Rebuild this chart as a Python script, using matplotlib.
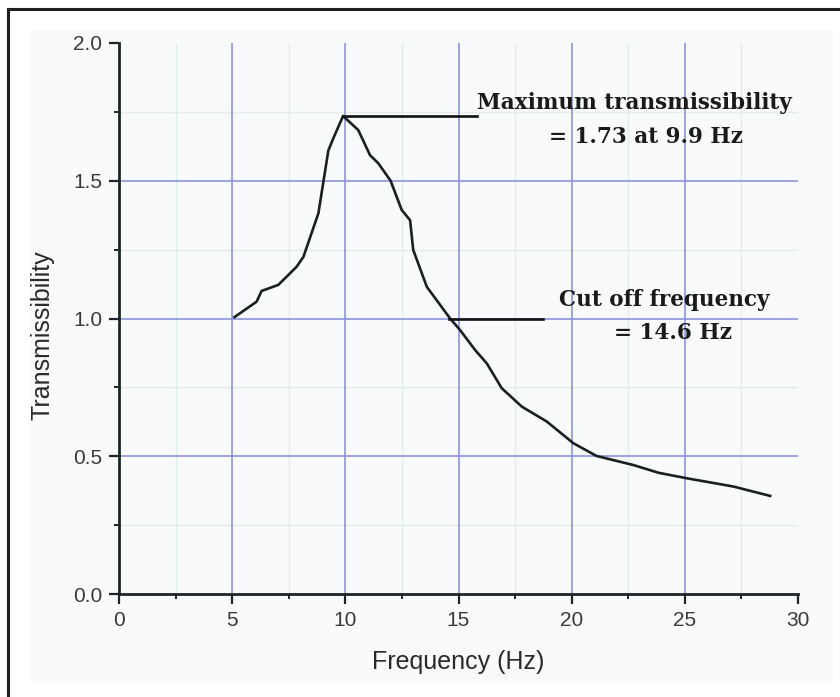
import matplotlib
matplotlib.use("Agg")
import matplotlib.pyplot as plt
from matplotlib.lines import Line2D
from matplotlib.patches import Rectangle
from matplotlib.ticker import MultipleLocator, FormatStrFormatter

# Transmissibility curve
freq_hz = [5.1, 6.08, 6.3, 7.04, 7.85, 8.15, 8.81, 9.25, 9.47, 9.9,
           10.57, 11.09, 11.46, 12.0, 12.49, 12.86, 13.0, 13.6, 14.63,
           15.07, 15.73, 16.25, 16.91, 17.8, 18.9, 20.08, 21.1, 22.73,
           23.84, 25.09, 27.15, 28.77]
transmissibility = [1.005, 1.061, 1.10, 1.122, 1.188, 1.224, 1.382, 1.61, 1.654, 1.735,
                    1.684, 1.593, 1.563, 1.50, 1.394, 1.357, 1.249, 1.115, 1.0,
                    0.958, 0.886, 0.837, 0.747, 0.680, 0.626, 0.547, 0.501, 0.468,
                    0.440, 0.42, 0.39, 0.356]

peak_f, peak_t = 9.9, 1.735
cutoff_f, cutoff_t = 14.6, 1.0
peak_line_end = 15.82
cutoff_line_end = 18.74

peak_label = ["Maximum transmissibility", "= 1.73 at 9.9 Hz"]
cutoff_label = ["Cut off frequency", "= 14.6 Hz"]

# interior grid positions (edges carry no grid line in the original)
x_major_grid = [5, 10, 15, 20, 25]
x_minor_grid = [2.5, 7.5, 12.5, 17.5, 22.5, 27.5]
y_major_grid = [0.5, 1.0, 1.5]
y_minor_grid = [0.25, 0.75, 1.25, 1.75]

fig = plt.figure(figsize=(8.4, 6.97), dpi=100, facecolor="white")

# light paper background and the outer frame
fig.patches.append(Rectangle((30 / 840, 14 / 697), 803 / 840, 653 / 697,
                             transform=fig.transFigure, facecolor="#f9fafc",
                             edgecolor="none", zorder=-5))
fx, fy = 8 / 840, 1 - 9 / 697
fig.lines.append(Line2D([fx, fx], [0, fy], transform=fig.transFigure,
                        color="#1e1e1e", linewidth=2.2, zorder=-4))
fig.lines.append(Line2D([fx, 1], [fy, fy], transform=fig.transFigure,
                        color="#1e1e1e", linewidth=2.2, zorder=-4))

ax = fig.add_axes([119 / 840, 103 / 697, 679 / 840, 551 / 697])
ax.set_zorder(2)
ax.set_facecolor("none")
ax.set_xlim(0, 30)
ax.set_ylim(0, 2.0)

ax.xaxis.set_major_locator(MultipleLocator(5))
ax.xaxis.set_minor_locator(MultipleLocator(2.5))
ax.yaxis.set_major_locator(MultipleLocator(0.5))
ax.yaxis.set_minor_locator(MultipleLocator(0.25))
ax.yaxis.set_major_formatter(FormatStrFormatter("%.1f"))

for v in x_minor_grid:
    ax.axvline(v, color="#e2efe8", linewidth=1.0, zorder=0.5)
for v in y_minor_grid:
    ax.axhline(v, color="#e2efe8", linewidth=1.0, zorder=0.5)
for v in x_major_grid:
    ax.axvline(v, color="#8a96dc", linewidth=1.2, zorder=1)
for v in y_major_grid:
    ax.axhline(v, color="#8a96dc", linewidth=1.2, zorder=1)

for side in ("top", "right"):
    ax.spines[side].set_visible(False)
for side in ("left", "bottom"):
    ax.spines[side].set_linewidth(2.0)
    ax.spines[side].set_color("#1c2626")

ax.tick_params(which="major", direction="out", length=7, width=1.6,
               color="#1c2626", labelsize=15, labelcolor="#3a3a3a", pad=5)
ax.tick_params(which="minor", direction="out", length=3.5, width=1.4,
               color="#1c2626")

ax.set_xlabel("Frequency (Hz)", fontsize=18, family="Liberation Sans",
              color="#2a2a2a", labelpad=15)
ax.set_ylabel("Transmissibility", fontsize=18, family="Liberation Sans",
              color="#2a2a2a")
ax.yaxis.set_label_coords(-0.095, 0.47)

ax.plot(freq_hz, transmissibility, color="#1a2020", linewidth=1.9, zorder=3)

# annotation leaders
ax.plot([peak_f, peak_line_end], [peak_t, peak_t], color="#111111",
        linewidth=1.9, zorder=3)
ax.plot([cutoff_f, cutoff_line_end], [cutoff_t, cutoff_t], color="#111111",
        linewidth=1.9, zorder=3)

txt = dict(family="DejaVu Serif", fontweight="bold", fontsize=15.5,
           color="#1a1a1a", va="center", zorder=4)
ax.text(15.82, 1.782, peak_label[0], ha="left", **txt)
ax.text(23.27, 1.659, peak_label[1], ha="center", **txt)
ax.text(24.1, 1.067, cutoff_label[0], ha="center", **txt)
ax.text(24.46, 0.947, cutoff_label[1], ha="center", **txt)

for lab in ax.get_xticklabels() + ax.get_yticklabels():
    lab.set_family("Liberation Sans")

fig.savefig("out.png", dpi=100, facecolor="white")
